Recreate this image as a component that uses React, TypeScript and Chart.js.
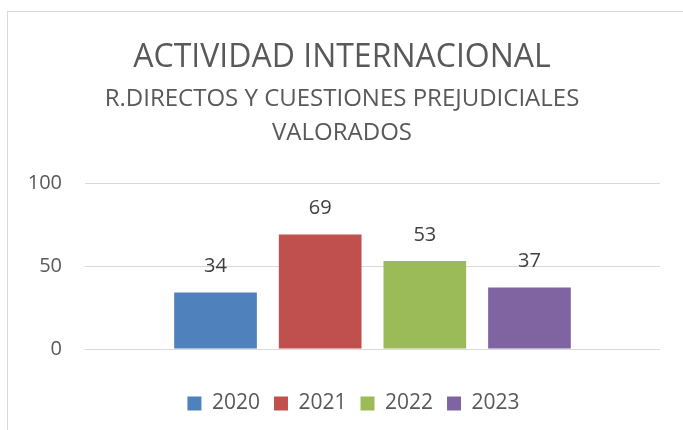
import React, { useEffect, useRef } from "react";
import { Chart, registerables } from "chart.js";

Chart.register(...registerables);

const titleText = "ACTIVIDAD INTERNACIONAL";
const subtitleLines = ["R.DIRECTOS Y CUESTIONES PREJUDICIALES", "VALORADOS"];
const categories = [""];
const seriesNames = ["2020", "2021", "2022", "2023"];
const seriesValues = [34, 69, 53, 37];
const seriesColors = ["#4f81bd", "#c0504d", "#9bbb59", "#8064a2"];
const yTicks = [0, 50, 100];

const FONT = "'Open Sans', 'Liberation Sans', sans-serif";
const TEXT_COLOR = "#595959";

const framePlugin = {
  id: "frame",
  beforeDraw(chart: any) {
    const ctx = chart.ctx;
    ctx.save();
    ctx.fillStyle = "#ffffff";
    ctx.fillRect(0, 0, chart.width, chart.height);
    ctx.strokeStyle = "#d9d9d9";
    ctx.lineWidth = 1;
    ctx.strokeRect(7.5, 11.5, 800, 600);
    ctx.restore();
  },
};

const legendShiftPlugin = {
  id: "legendShift",
  afterLayout(chart: any) {
    const l = chart.legend;
    if (l) {
      l.left = 47;
      l.width = l.right - l.left;
      if (l.adjustHitBoxes) l.adjustHitBoxes();
    }
  },
};

const titlesPlugin = {
  id: "titles",
  afterDraw(chart: any) {
    const ctx = chart.ctx;
    ctx.save();
    ctx.fillStyle = TEXT_COLOR;
    ctx.textAlign = "center";
    ctx.textBaseline = "alphabetic";
    const cx = 342;
    ctx.font = `32px ${FONT}`;
    ctx.fillText(titleText, cx, 67);
    ctx.font = `24px ${FONT}`;
    ctx.fillText(subtitleLines[0], cx, 106);
    ctx.fillText(subtitleLines[1], cx, 140);
    ctx.restore();
  },
};

const valueLabelsPlugin = {
  id: "valueLabels",
  afterDatasetsDraw(chart: any) {
    const ctx = chart.ctx;
    ctx.save();
    ctx.fillStyle = "#404040";
    ctx.font = `20px ${FONT}`;
    ctx.textAlign = "center";
    ctx.textBaseline = "middle";
    chart.data.datasets.forEach((ds: any, i: number) => {
      const meta = chart.getDatasetMeta(i);
      meta.data.forEach((bar: any, j: number) => {
        ctx.fillText(String(ds.data[j]), bar.x, bar.y - 26);
      });
    });
    ctx.restore();
  },
};

export default function App() {
  const ref = useRef<HTMLCanvasElement>(null);
  useEffect(() => {
    if (!ref.current) return;
    const chart = new Chart(ref.current, {
      type: "bar",
      data: {
        labels: categories,
        datasets: seriesNames.map((name, i) => ({
          label: name,
          data: [seriesValues[i]],
          backgroundColor: seriesColors[i],
          borderWidth: 0,
          categoryPercentage: 0.728,
          barPercentage: 0.79,
        })),
      },
      options: {
        responsive: false,
        animation: false,
        layout: { padding: { top: 183, right: 23, bottom: 6, left: 0 } },
        plugins: {
          title: { display: false },
          tooltip: { enabled: false },
          legend: {
            display: true,
            position: "bottom",
            labels: {
              color: TEXT_COLOR,
              font: { family: FONT, size: 21 },
              boxWidth: 14,
              boxHeight: 14,
              padding: 14,
            },
          },
        },
        scales: {
          x: {
            display: true,
            grid: { display: false, drawTicks: false },
            border: { display: false },
            ticks: { display: false },
            afterFit(scale: any) {
              scale.height = 30;
            },
          },
          y: {
            min: 0,
            max: 100,
            afterBuildTicks(scale: any) {
              scale.ticks = yTicks.map((v) => ({ value: v }));
            },
            grid: { color: "#d9d9d9", lineWidth: 1, drawTicks: false },
            border: { display: false },
            ticks: {
              color: TEXT_COLOR,
              font: { family: FONT, size: 20 },
              padding: 23,
            },
            afterFit(scale: any) {
              scale.width = 85;
            },
          },
        },
      },
      plugins: [framePlugin, legendShiftPlugin, titlesPlugin, valueLabelsPlugin],
    });
    return () => chart.destroy();
  }, []);
  return (
    <canvas
      ref={ref}
      width={683}
      height={430}
      style={{ position: "fixed", left: 0, top: 0, width: 683, height: 430 }}
    />
  );
}
